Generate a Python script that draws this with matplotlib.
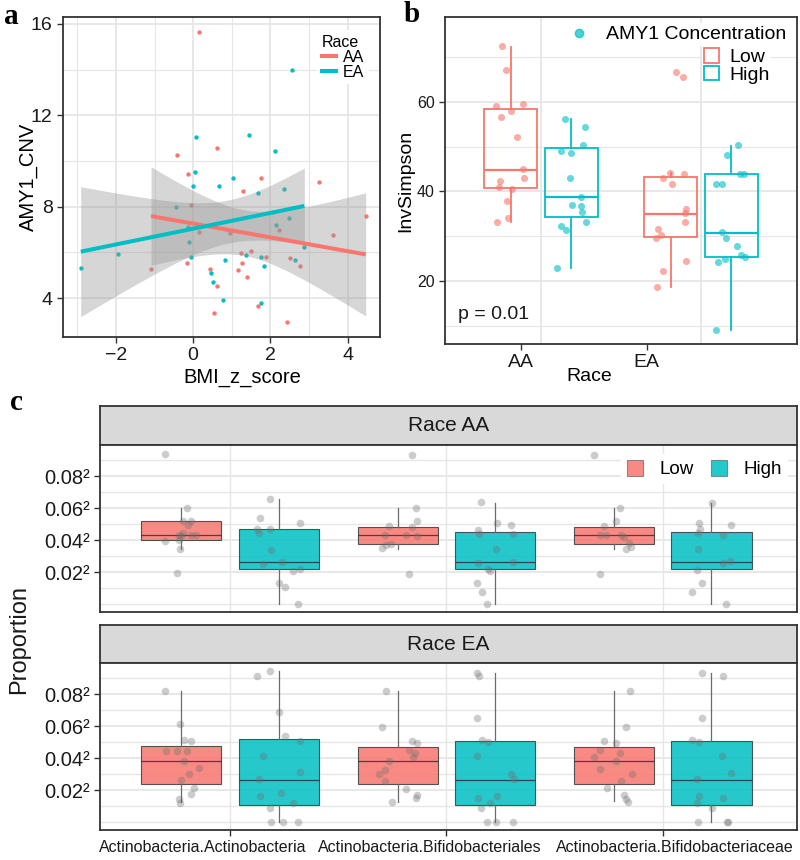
import numpy as np
import matplotlib
matplotlib.use('Agg')
import matplotlib.pyplot as plt
from matplotlib.lines import Line2D
from matplotlib.patches import Patch
import matplotlib.transforms as mtrans

plt.rcParams['font.family'] = ['Liberation Sans', 'DejaVu Sans']

RED = '#F8766D'
CYAN = '#00BFC4'
GRID = '#e6e6e6'
SPINE = '#333333'

# ---------------- Panel a data ----------------
aa_bmi = [0.15, -0.42, 0.63, -0.13, 1.76, 1.29, 3.27, -0.06, 0.16, 0.96, 2.22, 2.06, 3.62, 4.47,
          -1.09, -0.15, 1.23, 1.51, 1.27, 1.88, 1.16, 0.44, 1.40, 0.61, 2.52, 2.77, 0.53, 1.67, 2.44]
aa_cnv = [15.64, 10.28, 10.58, 9.45, 9.27, 8.67, 9.09, 8.09, 6.89, 6.86, 6.97, 7.78, 6.78, 7.59,
          5.28, 5.55, 5.98, 6.06, 5.52, 5.79, 5.21, 5.26, 4.91, 4.52, 5.74, 5.39, 3.33, 3.65, 2.95]
ea_bmi = [2.56, 0.07, 1.44, 2.13, 0.06, 1.04, 0.0, 0.67, 1.68, 2.36, -0.45, 2.48, 2.14, -0.14,
          -0.10, 2.88, -0.06, 0.82, 1.38, 1.75, 1.83, 2.63, -1.94, -2.91, 0.46, 0.51, 0.77, 1.77]
ea_cnv = [14.0, 11.04, 11.14, 10.43, 9.50, 9.27, 8.92, 8.89, 8.61, 8.79, 7.97, 7.49, 7.18, 7.10,
          6.46, 6.22, 5.82, 5.66, 5.87, 5.79, 5.39, 5.67, 5.95, 5.33, 5.09, 4.69, 3.94, 3.78]

# ---------------- Panel b data ----------------
b_races = ['AA', 'EA']
b_groups = ['Low', 'High']
# box stats [group][race]
b_q1 = [[40.7, 29.9], [34.3, 25.4]]
b_med = [[44.9, 34.9], [38.7, 30.8]]
b_q3 = [[58.5, 43.3], [49.7, 43.8]]
b_lo = [[33.1, 18.6], [22.8, 9.0]]
b_hi = [[72.2, 44.2], [56.3, 50.2]]
# jittered points [group][race]
b_pts = [
    [[72.5, 67.1, 59.1, 59.55, 57.9, 56.6, 52.1, 45.0, 43.1, 42.3, 41.0, 40.6, 37.8, 34.1, 33.1],
     [66.7, 65.6, 44.2, 44.0, 42.9, 41.7, 36.1, 35.1, 33.1, 31.7, 30.2, 29.7, 24.4, 22.3, 18.6]],
    [[56.3, 54.5, 50.3, 49.0, 48.6, 42.9, 38.8, 37.0, 36.8, 35.5, 33.2, 32.3, 31.3, 22.8],
     [50.4, 48.1, 44.0, 44.0, 41.7, 41.7, 31.0, 29.6, 27.7, 25.7, 25.3, 25.0, 24.3, 9.0]],
]
b_jit = [
    [[-0.052, -0.026, -0.091, 0.077, 0.005, -0.062, 0.043, 0.077, 0.081, -0.064, -0.074, 0.009, -0.024, -0.014, -0.087],
     [0.034, 0.075, -0.004, 0.086, -0.050, 0.010, 0.094, 0.092, 0.088, -0.080, -0.063, -0.090, 0.096, -0.048, -0.086]],
    [[-0.043, 0.083, 0.072, -0.064, -0.001, -0.011, 0.060, 0.003, 0.058, 0.068, 0.093, -0.064, -0.033, -0.091],
     [0.044, -0.027, 0.052, 0.077, -0.099, -0.057, -0.057, -0.034, 0.036, 0.057, 0.084, -0.042, -0.085, -0.099]],
]

# ---------------- Panel c data ----------------
c_taxa = ['Actinobacteria.Actinobacteria', 'Actinobacteria.Bifidobacteriales',
          'Actinobacteria.Bifidobacteriaceae']
c_facets = ['Race AA', 'Race EA']
c_yticks = [0.02, 0.04, 0.06, 0.08]
# box stats [facet][group][taxon]  (sqrt scale values)
c_q1 = [[[0.0404, 0.0375, 0.0375], [0.0219, 0.0219, 0.0219]],
        [[0.0243, 0.0239, 0.0239], [0.0107, 0.0107, 0.0107]]]
c_med = [[[0.0435, 0.0431, 0.0431], [0.0267, 0.0267, 0.0267]],
         [[0.0385, 0.0385, 0.0385], [0.0266, 0.0266, 0.0266]]]
c_q3 = [[[0.0519, 0.0481, 0.0481], [0.0471, 0.0452, 0.0452]],
        [[0.0480, 0.0473, 0.0473], [0.0521, 0.0507, 0.0507]]]
c_lo = [[[0.0348, 0.0348, 0.0348], [0.0, 0.0, 0.0]],
        [[0.0128, 0.0128, 0.0134], [0.0, 0.0, 0.0]]]
c_hi = [[[0.0602, 0.0602, 0.0602], [0.0660, 0.0635, 0.0635]],
        [[0.0819, 0.0819, 0.0819], [0.0944, 0.0930, 0.0930]]]

c_aa_low_v = [
    [0.0938, 0.0604, 0.0519, 0.0519, 0.0494, 0.0435, 0.0427, 0.0431, 0.0435, 0.0394, 0.0400, 0.0344, 0.0194, 0.0448],
    [0.0931, 0.0604, 0.0519, 0.0488, 0.0483, 0.0435, 0.0431, 0.0427, 0.0375, 0.0354, 0.0369, 0.0192],
    [0.0931, 0.0602, 0.0519, 0.0488, 0.0435, 0.0431, 0.0435, 0.0421, 0.0385, 0.0358, 0.0348, 0.0192]]
c_aa_low_dx = [
    [-0.074, 0.026, 0.007, 0.046, 0.030, -0.008, 0.0, 0.069, 0.046, -0.074, -0.008, -0.006, -0.020, 0.007],
    [0.068, 0.087, 0.091, -0.039, 0.065, -0.058, 0.038, 0.088, -0.031, -0.073, -0.054, 0.053],
    [-0.093, 0.025, 0.007, -0.047, -0.067, -0.036, 0.033, 0.048, 0.068, 0.079, 0.053, -0.067]]
c_aa_high_v = [
    [0.0660, 0.0540, 0.0510, 0.0473, 0.0469, 0.0448, 0.0342, 0.0250, 0.0265, 0.0210, 0.0223, 0.0133, 0.0108, 0.0],
    [0.0640, 0.0510, 0.0498, 0.0463, 0.0442, 0.0442, 0.0344, 0.0258, 0.0265, 0.0223, 0.0210, 0.0133, 0.0077, 0.0],
    [0.0635, 0.0510, 0.0498, 0.0473, 0.0448, 0.0435, 0.0344, 0.0260, 0.0269, 0.0213, 0.0133, 0.0077, 0.0]]
c_aa_high_dx = [
    [-0.039, -0.084, 0.099, -0.099, -0.039, -0.091, -0.035, -0.070, 0.015, 0.065, 0.099, 0.001, 0.030, 0.088],
    [-0.064, 0.008, 0.075, -0.079, -0.075, 0.085, 0.005, -0.079, 0.085, -0.033, -0.022, -0.082, -0.059, -0.038],
    [0.004, -0.058, 0.090, -0.053, -0.064, 0.055, -0.061, 0.052, 0.085, -0.068, -0.042, -0.091, 0.065]]
c_ea_low_v = [
    [0.0821, 0.0616, 0.0517, 0.0511, 0.0448, 0.0448, 0.0448, 0.0385, 0.0337, 0.0302, 0.0266, 0.0218, 0.0176, 0.0149, 0.0124],
    [0.0821, 0.0595, 0.0511, 0.0496, 0.0454, 0.0433, 0.0406, 0.0385, 0.0329, 0.0302, 0.0260, 0.0211, 0.0169, 0.0155, 0.0128],
    [0.0821, 0.0595, 0.0511, 0.0496, 0.0454, 0.0433, 0.0406, 0.0385, 0.0333, 0.0302, 0.0260, 0.0218, 0.0169, 0.0149, 0.0128]]
c_ea_low_dx = [
    [-0.074, -0.005, 0.012, 0.046, -0.072, -0.018, 0.028, 0.012, 0.081, 0.035, -0.003, 0.061, 0.046, -0.008, -0.005],
    [-0.054, -0.070, 0.068, 0.091, 0.053, 0.081, 0.071, -0.039, -0.058, -0.085, -0.058, 0.038, 0.088, 0.087, -0.028],
    [0.075, 0.053, -0.048, 0.007, -0.067, 0.029, -0.093, 0.007, -0.067, 0.084, 0.030, -0.031, 0.045, 0.056, 0.064]]
c_ea_high_v = [
    [0.0944, 0.0915, 0.0689, 0.0542, 0.0507, 0.0417, 0.0318, 0.0270, 0.0166, 0.0182, 0.0124, 0.0092, 0.0, 0.0, 0.0],
    [0.0930, 0.0915, 0.0653, 0.0515, 0.0505, 0.0417, 0.0302, 0.0270, 0.0166, 0.0151, 0.0124, 0.0092, 0.0, 0.0, 0.0],
    [0.0930, 0.0915, 0.0653, 0.0517, 0.0505, 0.0417, 0.0306, 0.0270, 0.0166, 0.0155, 0.0124, 0.0092, 0.0, 0.0, 0.0]]
c_ea_high_dx = [
    [-0.039, -0.101, 0.004, 0.030, 0.099, -0.070, 0.099, -0.091, -0.084, 0.012, 0.065, -0.039, -0.035, 0.019, 0.088],
    [-0.082, -0.075, -0.082, -0.059, -0.033, -0.082, 0.075, 0.087, 0.008, -0.079, -0.025, -0.064, -0.036, 0.005, 0.082],
    [-0.042, 0.052, -0.042, -0.091, -0.056, 0.050, 0.090, -0.065, -0.058, 0.052, -0.068, 0.004, -0.064, 0.070, 0.078]]

W, H = 800, 860
fig = plt.figure(figsize=(W / 100, H / 100), dpi=100)


def box(l, t, r, b):
    return [l / W, 1 - b / H, (r - l) / W, (b - t) / H]


def style_spines(ax, lw=1.3):
    for s in ax.spines.values():
        s.set_color(SPINE)
        s.set_linewidth(lw)
    ax.tick_params(colors='#333333', labelcolor='#1a1a1a', length=4, width=1.0)


# ======================= Panel a =======================
axa = fig.add_axes(box(63, 17, 380, 337))
style_spines(axa)
axa.set_xlim(-3.37, 4.84)
axa.set_ylim(2.3, 16.3)
axa.set_xticks([-2, 0, 2, 4])
axa.set_xticklabels(['\u22122', '0', '2', '4'])
axa.set_yticks([4, 8, 12, 16])
axa.set_xticks([-3, -1, 1, 3], minor=True)
axa.set_yticks([6, 10, 14], minor=True)
axa.tick_params(which='minor', length=0)
axa.tick_params(labelsize=14)
axa.grid(True, which='major', color=GRID, lw=1.3, zorder=0)
axa.grid(True, which='minor', color=GRID, lw=0.8, zorder=0)
axa.set_axisbelow(True)

T_CRIT = 2.05
for xs, ys, col in [(aa_bmi, aa_cnv, RED), (ea_bmi, ea_cnv, CYAN)]:
    xs = np.asarray(xs); ys = np.asarray(ys)
    axa.scatter(xs, ys, s=10, color=col, zorder=2, linewidths=0)
for xs, ys, col in [(aa_bmi, aa_cnv, RED), (ea_bmi, ea_cnv, CYAN)]:
    xs = np.asarray(xs); ys = np.asarray(ys)
    n = len(xs)
    slope, icpt = np.polyfit(xs, ys, 1)
    resid = ys - (slope * xs + icpt)
    s = np.sqrt(np.sum(resid ** 2) / (n - 2))
    xg = np.linspace(xs.min(), xs.max(), 80)
    yg = slope * xg + icpt
    se = s * np.sqrt(1 / n + (xg - xs.mean()) ** 2 / np.sum((xs - xs.mean()) ** 2))
    axa.fill_between(xg, yg - T_CRIT * se, yg + T_CRIT * se, color='#999999', alpha=0.4,
                     linewidth=0, zorder=3)
    axa.plot(xg, yg, color=col, lw=2.9, zorder=4, solid_capstyle='butt')

axa.set_xlabel('BMI_z_score', fontsize=14.5)
axa.xaxis.set_label_coords(0.565, -0.128)
axa.xaxis.label.set_va('center')
axa.set_ylabel('AMY1_CNV', fontsize=14.5)
axa.yaxis.set_label_coords(-0.11, 0.5)
axa.yaxis.label.set_va('center')

leg_a = axa.legend(handles=[Line2D([], [], color=RED, lw=2.9), Line2D([], [], color=CYAN, lw=2.9)],
                   labels=['AA', 'EA'], title='Race', loc='upper right',
                   bbox_to_anchor=(0.99, 0.985), fontsize=11.5, title_fontsize=11.5,
                   handlelength=0.9, handletextpad=0.4, labelspacing=0.0, borderpad=0.3,
                   frameon=True, framealpha=1, edgecolor='none', facecolor='white')
leg_a._legend_box.align = 'left'

# ======================= Panel b =======================
axb = fig.add_axes(box(445, 17, 797, 344))
style_spines(axb)
axb.set_xlim(0.4, 2.6)
axb.set_ylim(5.9, 79.0)
axb.set_yticks([20, 40, 60])
axb.set_yticks([10, 30, 50, 70], minor=True)
axb.tick_params(which='minor', length=0)
axb.grid(True, axis='y', which='major', color=GRID, lw=1.3, zorder=0)
axb.grid(True, axis='y', which='minor', color=GRID, lw=0.8, zorder=0)
for p in range(1, len(b_races) + 1):
    axb.axvline(p, color=GRID, lw=1.3, zorder=0)
axb.set_axisbelow(True)
axb.tick_params(axis='y', labelsize=11.5)
axb.tick_params(axis='x', labelsize=14)

b_offsets = [-0.19, 0.19]
b_colors = [RED, CYAN]
for gi in range(2):
    stats = []
    for ri in range(2):
        stats.append(dict(q1=b_q1[gi][ri], med=b_med[gi][ri], q3=b_q3[gi][ri],
                          whislo=b_lo[gi][ri], whishi=b_hi[gi][ri], fliers=[]))
    pos = [ri + 1 + b_offsets[gi] for ri in range(2)]
    col = b_colors[gi]
    axb.bxp(stats, positions=pos, widths=0.333, showcaps=False, showfliers=False,
            patch_artist=True, manage_ticks=False,
            boxprops=dict(facecolor='none', edgecolor=col, lw=1.3),
            medianprops=dict(color=col, lw=1.6),
            whiskerprops=dict(color=col, lw=1.3), zorder=2)
    for ri in range(2):
        xs = np.array(b_jit[gi][ri]) + pos[ri]
        axb.scatter(xs, b_pts[gi][ri], s=26, color=col, alpha=0.6, linewidths=0, zorder=3)

axb.set_xticks([0.874, 1.66])
axb.set_xticklabels(b_races)
axb.set_xlabel('Race', fontsize=14)
axb.xaxis.set_label_coords(0.409, -0.098)
axb.xaxis.label.set_va('center')
axb.set_ylabel('InvSimpson', fontsize=14)
axb.yaxis.set_label_coords(-0.111, 0.5)
axb.yaxis.label.set_va('center')
axb.text(0.484, 12.4, 'p = 0.01', fontsize=14, ha='left', va='center', color='#1a1a1a')

leg_b1 = axb.legend(handles=[Line2D([], [], marker='o', ls='none', color=CYAN, alpha=0.7, ms=6)],
                    labels=['AMY1 Concentration'], loc='upper right', bbox_to_anchor=(1.005, 1.012),
                    fontsize=14, handlelength=1.0, handletextpad=0.9, borderpad=0.15,
                    frameon=True, framealpha=1, edgecolor='none', facecolor='white')
axb.add_artist(leg_b1)
axb.legend(handles=[Patch(facecolor='white', edgecolor=RED, lw=1.3),
                    Patch(facecolor='white', edgecolor=CYAN, lw=1.3)],
           labels=['Low', 'High'], loc='upper right', bbox_to_anchor=(0.955, 0.94),
           fontsize=14, handlelength=0.8, handleheight=0.75, handletextpad=0.5, labelspacing=0.0,
           borderpad=0.1, frameon=True, framealpha=1, edgecolor='none', facecolor='white')

# ======================= Panel c =======================
c_offsets = [-0.225, 0.225]
c_fill = [RED, CYAN]
c_pts_v = [[c_aa_low_v, c_aa_high_v], [c_ea_low_v, c_ea_high_v]]
c_pts_dx = [[c_aa_low_dx, c_aa_high_dx], [c_ea_low_dx, c_ea_high_dx]]
strip_rows = [(406, 445), (625, 663)]
panel_rows = [(445, 612), (663, 830)]
ntax = len(c_taxa)
for fi in range(2):
    st_t, st_b = strip_rows[fi]
    sax = fig.add_axes(box(100, st_t, 797, st_b))
    sax.set_facecolor('#d9d9d9')
    sax.set_xticks([]); sax.set_yticks([])
    for s in sax.spines.values():
        s.set_color(SPINE); s.set_linewidth(1.3)
    sax.text(0.5, 0.5, c_facets[fi], ha='center', va='center', fontsize=15,
             color='#1a1a1a', transform=sax.transAxes)

    pt, pb = panel_rows[fi]
    ax = fig.add_axes(box(100, pt, 797, pb))
    style_spines(ax)
    ax.set_xlim(0.4, ntax + 0.62)
    ax.set_ylim(-0.0047, 0.0995)
    ax.set_yticks(c_yticks)
    ax.set_yticklabels([f'{t:.2f}\u00b2' for t in c_yticks])
    ax.set_yticks([0.0, 0.01, 0.03, 0.05, 0.07, 0.09], minor=True)
    ax.tick_params(which='minor', length=0)
    ax.tick_params(axis='y', labelsize=14.5)
    ax.grid(True, axis='y', which='major', color=GRID, lw=1.3, zorder=0)
    ax.grid(True, axis='y', which='minor', color=GRID, lw=1.0, zorder=0)
    for p in range(1, ntax + 1):
        ax.axvline(p, color=GRID, lw=1.0, zorder=0)
    ax.set_axisbelow(True)

    for gi in range(2):
        stats = []
        for ti in range(ntax):
            stats.append(dict(q1=c_q1[fi][gi][ti], med=c_med[fi][gi][ti], q3=c_q3[fi][gi][ti],
                              whislo=c_lo[fi][gi][ti], whishi=c_hi[fi][gi][ti], fliers=[]))
        pos = [ti + 1 + c_offsets[gi] for ti in range(ntax)]
        ax.bxp(stats, positions=pos, widths=0.37, showcaps=False, showfliers=False,
               patch_artist=True, manage_ticks=False,
               boxprops=dict(facecolor=c_fill[gi], edgecolor='#3a3a3a', lw=0.8, alpha=0.85),
               medianprops=dict(color='#2a2a2a', lw=0.9, alpha=0.8),
               whiskerprops=dict(color='#6a6a6a', lw=0.9), zorder=2)
        for ti in range(ntax):
            xs = np.array(c_pts_dx[fi][gi][ti]) + pos[ti]
            ax.scatter(xs, c_pts_v[fi][gi][ti], s=30, color='#6e6e6e', alpha=0.35,
                       linewidths=0, zorder=3)

    if fi == 0:
        ax.set_xticks([])
        ax.legend(handles=[Patch(facecolor=RED, edgecolor='#777777', lw=0.8, alpha=0.85),
                           Patch(facecolor=CYAN, edgecolor='#777777', lw=0.8, alpha=0.85)],
                  labels=['Low', 'High'], loc='upper right', bbox_to_anchor=(1.0, 1.0), ncol=2,
                  fontsize=13.5, handlelength=0.85, handleheight=0.9, handletextpad=0.9,
                  columnspacing=0.9, borderpad=0.3, frameon=True, framealpha=1,
                  edgecolor='none', facecolor='white')
    else:
        ax.set_xticks(range(1, ntax + 1))
        ax.set_xticklabels(c_taxa, fontsize=11.5)
        shifts_px = [-27, -17, 12]
        for lab, dx in zip(ax.get_xticklabels(), shifts_px):
            lab.set_transform(lab.get_transform() +
                              mtrans.ScaledTranslation(dx / 100, 0, fig.dpi_scale_trans))

fig.text(19 / W, 1 - 640 / H, 'Proportion', rotation=90, fontsize=17, ha='center', va='center',
         color='#1a1a1a')

# Panel letters
for letter, x, y in [('a', 11, 16), ('b', 412, 14), ('c', 16, 403)]:
    fig.text(x / W, 1 - y / H, letter, fontsize=21, fontweight='bold', ha='center', va='center',
             family=['Liberation Serif', 'DejaVu Serif'])

fig.savefig('out.png', dpi=100)
